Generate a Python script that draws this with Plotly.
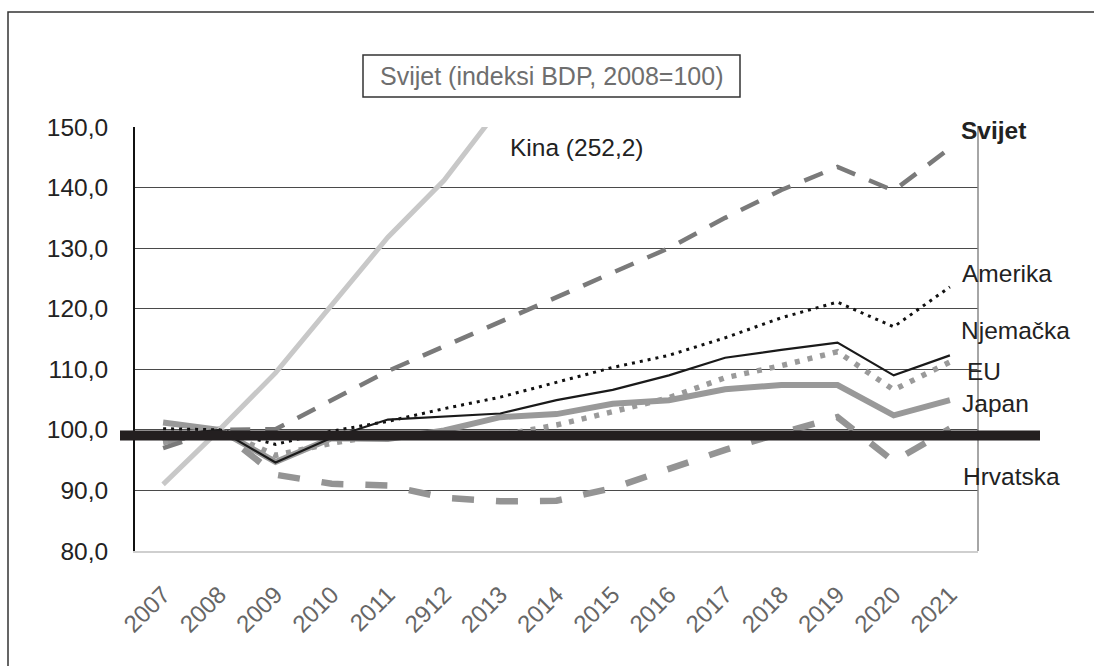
import plotly.graph_objects as go

# Category labels on the x axis (as printed)
years = ["2007", "2008", "2009", "2010", "2011", "2912", "2013", "2014",
         "2015", "2016", "2017", "2018", "2019", "2020", "2021"]

# GDP indices, 2008 = 100
kina = [91.0, 100.0, 109.4, 120.7, 131.8, 141.2, 153.5, 165.0, 177.0,
        189.0, 200.5, 214.0, 226.0, 231.0, 252.2]
svijet = [97.0, 100.0, 100.1, 105.0, 109.7, 113.8, 117.8, 121.9, 126.0,
          130.0, 135.0, 139.6, 143.4, 139.5, 146.5]
amerika = [100.2, 100.0, 97.6, 99.8, 101.4, 103.5, 105.4, 107.8, 110.3,
           112.3, 115.2, 118.5, 121.1, 117.0, 123.6]
njemacka = [99.0, 100.0, 94.6, 98.7, 101.7, 102.2, 102.7, 104.9, 106.6,
            109.0, 111.9, 113.2, 114.4, 109.0, 112.3]
eu = [98.0, 100.0, 95.8, 97.8, 99.3, 98.9, 99.1, 100.8, 103.0,
      105.3, 108.6, 110.6, 112.9, 106.6, 111.2]
japan = [101.2, 100.0, 94.7, 98.6, 98.5, 99.9, 102.1, 102.6, 104.3,
         104.9, 106.7, 107.4, 107.4, 102.4, 104.9]
hrvatska = [98.0, 100.0, 92.6, 91.1, 90.8, 88.8, 88.2, 88.3, 90.4,
            93.6, 96.7, 99.5, 102.1, 94.8, 100.2]

reference_level = 99.05

W, H = 1094, 666
L, R, T, B = 135, 116, 127, 115
PW, PH = W - L - R, H - T - B


def px(xp):
    return (xp - L) / PW


def py(yp):
    return (H - B - yp) / PH


FONT = "Liberation Sans, Arial, sans-serif"

fig = go.Figure()

series = [
    ("Hrvatska", hrvatska, dict(color="#949494", width=6.5, dash="22px,22px")),
    ("Japan", japan, dict(color="#999999", width=6)),
    ("EU", eu, dict(color="#9a9a9a", width=5.5, dash="5px,8px")),
    ("Svijet", svijet, dict(color="#7a7a7a", width=4.5, dash="20px,15px")),
    ("Kina", kina, dict(color="#c8c8c8", width=5)),
    ("Amerika", amerika, dict(color="#111111", width=3, dash="3px,5px")),
    ("Njemačka", njemacka, dict(color="#1a1a1a", width=2.2)),
]
for name, vals, line in series:
    fig.add_trace(go.Scatter(x=years, y=vals, name=name, mode="lines",
                             line=line, showlegend=False))

shapes = [
    # outer frame
    dict(type="rect", xref="paper", yref="paper",
         x0=px(8), x1=px(1300), y0=py(900), y1=py(12),
         line=dict(color="#333333", width=1.5), layer="below"),
    # title box
    dict(type="rect", xref="paper", yref="paper",
         x0=px(363), x1=px(740), y0=py(97), y1=py(55),
         line=dict(color="#333333", width=1.5), fillcolor="white"),
    # right border of plot area
    dict(type="line", xref="paper", yref="paper", x0=1, x1=1, y0=0, y1=1,
         line=dict(color="#888888", width=1.5)),
    # heavy reference bar
    dict(type="line", xref="paper", yref="y", x0=px(120), x1=px(1040),
         y0=reference_level, y1=reference_level,
         line=dict(color="#231f20", width=10), layer="above"),
]

label_font = dict(family=FONT, size=24.5, color="#222222")
labels = [
    ("<b>Svijet</b>", 959, 130),
    ("Kina (252,2)", 508, 147),
    ("Amerika", 960, 273),
    ("Njemačka", 959, 330),
    ("EU", 965, 371),
    ("Japan", 960, 403),
    ("Hrvatska", 961, 476),
]
annotations = [
    dict(text=t, xref="paper", yref="paper", x=px(xp), y=py(yp),
         xanchor="left", yanchor="middle", showarrow=False, font=label_font)
    for t, xp, yp in labels
]
annotations.append(dict(
    text="Svijet (indeksi BDP, 2008=100)", xref="paper", yref="paper",
    x=px(551.5), y=py(76), xanchor="center", yanchor="middle",
    showarrow=False, font=dict(family=FONT, size=25, color="#6e6e6e")))

fig.update_layout(
    width=W, height=H,
    margin=dict(l=L, r=R, t=T, b=B, pad=0),
    paper_bgcolor="white", plot_bgcolor="white",
    shapes=shapes, annotations=annotations,
    xaxis=dict(type="category", categoryorder="array", categoryarray=years,
               range=[-0.5, len(years) - 0.5], showgrid=False,
               showline=True, linecolor="#cfcfcf", linewidth=2,
               tickangle=-45, ticks="outside", ticklen=18,
               tickcolor="rgba(0,0,0,0)",
               tickfont=dict(family=FONT, size=24, color="#666666")),
    yaxis=dict(range=[80, 150], dtick=10, tickformat=".1f",
               showgrid=True, gridcolor="#4a4a4a", gridwidth=1,
               showline=True, linecolor="#111111", linewidth=2,
               zeroline=False, ticks="outside", ticklen=20,
               tickcolor="rgba(0,0,0,0)",
               tickfont=dict(family=FONT, size=24.5, color="#222222")),
    separators=",.",
)

fig.write_html("out.html")
